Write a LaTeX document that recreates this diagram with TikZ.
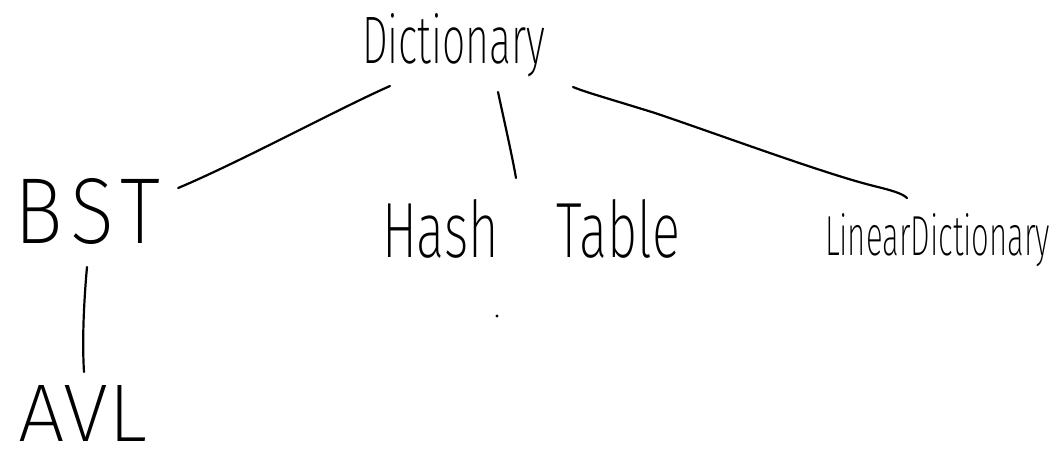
\documentclass[tikz,border=0pt]{standalone}
\usepackage{fontspec}
% thinnest available sans face, falling back to the regular weight
\IfFontExistsTF{Fira Sans ExtraLight}{\setmainfont{Fira Sans ExtraLight}}{%
  \IfFontExistsTF{Lato Light}{\setmainfont{Lato Light}}{%
    \IfFontExistsTF{Poppins Light}{\setmainfont{Poppins Light}}{%
      \setmainfont{Open Sans}}}}
\usetikzlibrary{calc}
\tikzset{
  word/.style={inner sep=0pt, outer sep=0pt, anchor=base west, text=black},
  stroke/.style={line width=2.2pt, line cap=round, line join=round, draw=black},
}
\newcommand{\fitword}[3]{\resizebox{#1pt}{#2pt}{#3}}
\begin{document}
\begin{tikzpicture}[x=1pt, y=-1pt]
  \useasboundingbox[fill=white] (0,0) rectangle (1055,451);

  % labels, placed by their baselines
  \node[word] (dict)   at (362,63)  {\fitword{183}{50}{Dictionary}};
  \node[word] (bst)    at (15,243)  {\fitword{145}{65}{B\hspace{0.08em}S\hspace{0.08em}T}};
  \node[word] (hash)   at (382,257) {\fitword{298}{58}{Hash\hspace{1.1em}Table}};
  \node[word] (linear) at (825,255) {\fitword{225}{42}{LinearDictionary}};
  \node[word] (avl)    at (18,441)  {\fitword{129}{56}{AVL}};

  % connectors
  \draw[stroke] ($(dict.base west)+(28,23)$)
      .. controls (340,108) and (240,162) .. ($(bst.base east)+(18,-55)$);
  \draw[stroke] ($(dict.base west)+(136,29)$)
      .. controls (504,120) and (512,155) .. ($(hash.base west)+(134,-79)$);
  \draw[stroke] ($(dict.base east)+(28,24)$)
      .. controls (585,92) and (600,96) .. (655,113)
      .. controls (720,135) and (820,172) .. (870,185)
      .. controls (890,190) and (902,193) .. ($(linear.base west)+(82,-57)$);
  \draw[stroke] ($(bst.base west)+(72,24)$)
      .. controls (84,300) and (82,340) .. ($(avl.base west)+(66,-69)$);

  % stray dot
  \fill (497,316) circle (1.6);
\end{tikzpicture}
\end{document}
